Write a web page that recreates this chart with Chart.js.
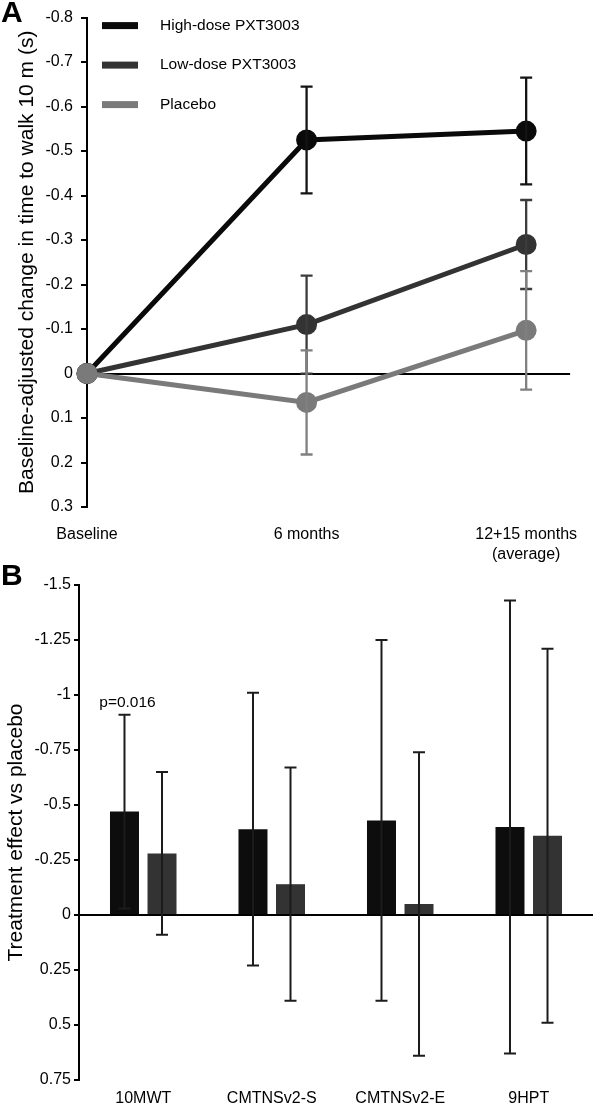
<!DOCTYPE html>
<html>
<head>
<meta charset="utf-8">
<script src="https://cdn.jsdelivr.net/npm/chart.js@4.4.0/dist/chart.umd.min.js"></script>
<style>
  html, body { margin: 0; padding: 0; background: #fff; }
  #page { position: relative; width: 597px; height: 1104px; overflow: hidden; }
  .letter { position: absolute; left: 1px; font: bold 30px 'Liberation Sans', Arial, sans-serif; line-height: 30px; color: #000; }
  canvas { position: absolute; left: 0; }
</style>
</head>
<body>
<div id="page">
  <canvas id="chartB" width="597" height="544" style="top:560px"></canvas>
  <canvas id="chartA" width="597" height="575" style="top:0"></canvas>
  <div class="letter" style="top:-3px">A</div>
  <div class="letter" style="top:560px">B</div>
</div>
<script>
// panel A: change in time to walk 10 m
const timepoints = ['Baseline', '6 months', ['12+15 months', '(average)']];
const highDose = [0, -0.525, -0.545];
const highDoseErr = [0, 0.12, 0.12];
const lowDose = [0, -0.11, -0.29];
const lowDoseErr = [0, 0.11, 0.10];
const placebo = [0, 0.065, -0.097];
const placeboErr = [0, 0.117, 0.133];

// panel B: treatment effect vs placebo
const measures = ['10MWT', 'CMTNSv2-S', 'CMTNSv2-E', '9HPT'];
const highEffect = [-0.47, -0.39, -0.43, -0.40];
const highEffectErr = [0.44, 0.62, 0.82, 1.03];
const lowEffect = [-0.28, -0.14, -0.05, -0.36];
const lowEffectErr = [0.37, 0.53, 0.69, 0.85];
const highEffectNotes = ['p=0.016', '', '', ''];

const FONT = "'Liberation Sans', Arial, sans-serif";
Chart.defaults.font.family = FONT;
Chart.defaults.color = '#000';

const isZero = v => Math.abs(v) < 1e-9;

// vertical error bars with caps, drawn from dataset.errors
const errorBars = {
  id: 'errorBars',
  afterDatasetsDraw(chart) {
    const ctx = chart.ctx;
    const yScale = chart.scales.y;
    chart.data.datasets.forEach((ds, i) => {
      if (!ds.errors) return;
      const meta = chart.getDatasetMeta(i);
      ctx.save();
      ctx.strokeStyle = ds.errorColor;
      ctx.lineWidth = ds.errorWidth || 2;
      meta.data.forEach((el, j) => {
        const err = ds.errors[j];
        if (!err) return;
        const d = ds.data[j];
        const v = typeof d === 'object' ? d.y : d;
        const top = yScale.getPixelForValue(v - err);
        const bot = yScale.getPixelForValue(v + err);
        const cap = ds.capWidth / 2;
        ctx.beginPath();
        ctx.moveTo(el.x, top);
        ctx.lineTo(el.x, bot);
        ctx.moveTo(el.x - cap, top);
        ctx.lineTo(el.x + cap, top);
        ctx.moveTo(el.x - cap, bot);
        ctx.lineTo(el.x + cap, bot);
        ctx.stroke();
        if (ds.notes && ds.notes[j]) {
          ctx.fillStyle = '#000';
          ctx.font = '15.5px ' + FONT;
          ctx.textAlign = 'center';
          ctx.textBaseline = 'bottom';
          ctx.fillText(ds.notes[j], el.x + 3, top - 4);
        }
      });
      ctx.restore();
    });
  }
};

// stacked legend inside the plot, one row per series
const lineLegend = {
  id: 'lineLegend',
  afterDraw(chart) {
    const {ctx, chartArea} = chart;
    ctx.save();
    chart.data.datasets.forEach((ds, i) => {
      const y = chartArea.top + 8 + i * 39.5;
      ctx.fillStyle = ds.borderColor;
      ctx.fillRect(chartArea.left + 15, y - 3.5, 36, 7);
      ctx.fillStyle = '#000';
      ctx.font = '15.5px ' + FONT;
      ctx.textAlign = 'left';
      ctx.textBaseline = 'middle';
      ctx.fillText(ds.label, chartArea.left + 73, y);
    });
    ctx.restore();
  }
};

// order: placebo drawn last so its marker sits on top at baseline
function lineSeries(label, values, errors, color, errColor, order) {
  return {
    label,
    order,
    data: values.map((v, i) => ({ x: i, y: v })),
    errors,
    errorColor: errColor,
    errorWidth: 2.3,
    capWidth: 12,
    borderColor: color,
    backgroundColor: color,
    pointBackgroundColor: color,
    pointBorderColor: color,
    borderWidth: 5,
    pointRadius: 8,
    tension: 0,
    clip: false
  };
}

const yAxisLine = (zeroColor) => ({
  color: ctx => (ctx.tick && isZero(ctx.tick.value)) ? zeroColor : 'rgba(0,0,0,0)',
  tickColor: '#000',
  lineWidth: 2
});

new Chart(document.getElementById('chartA'), {
  type: 'line',
  data: {
    datasets: [
      lineSeries('High-dose PXT3003', highDose, highDoseErr, '#0a0a0a', '#141414', 3),
      lineSeries('Low-dose PXT3003', lowDose, lowDoseErr, '#333333', '#3c3c3c', 2),
      lineSeries('Placebo', placebo, placeboErr, '#7a7a7a', '#808080', 1)
    ]
  },
  options: {
    responsive: false,
    animation: false,
    layout: { padding: { top: 13, right: 21, left: 0, bottom: 0 } },
    plugins: { legend: { display: false }, tooltip: { enabled: false } },
    scales: {
      x: {
        type: 'linear',
        min: 0,
        max: 2.2,
        afterBuildTicks: axis => { axis.ticks = timepoints.map((t, i) => ({ value: i })); },
        afterFit: axis => { axis.height = 68; },
        grid: { display: false, drawTicks: false },
        border: { display: false },
        ticks: {
          callback: v => timepoints[v],
          padding: 18,
          font: { size: 16, lineHeight: 1.25 },
          maxRotation: 0,
          autoSkip: false
        }
      },
      y: {
        min: -0.8,
        max: 0.3,
        reverse: true,
        afterFit: axis => { axis.width = 87; },
        ticks: {
          stepSize: 0.1,
          callback: v => isZero(v) ? '0' : v.toFixed(1),
          padding: 8,
          font: { size: 16 }
        },
        grid: Object.assign(yAxisLine('#000'), { tickLength: 6 }),
        border: { color: '#000', width: 2 },
        title: {
          display: true,
          text: 'Baseline-adjusted change in time to walk 10 m (s)',
          font: { size: 21 },
          padding: { top: 15, bottom: 0 }
        }
      }
    }
  },
  plugins: [errorBars, lineLegend]
});

new Chart(document.getElementById('chartB'), {
  type: 'bar',
  data: {
    labels: measures,
    datasets: [
      {
        label: 'High-dose PXT3003',
        data: highEffect,
        errors: highEffectErr,
        notes: highEffectNotes,
        errorColor: '#1c1c1c',
        capWidth: 12,
        backgroundColor: '#0d0d0d',
        categoryPercentage: 0.584,
        barPercentage: 0.773
      },
      {
        label: 'Low-dose PXT3003',
        data: lowEffect,
        errors: lowEffectErr,
        errorColor: '#1c1c1c',
        capWidth: 12,
        backgroundColor: '#333333',
        categoryPercentage: 0.584,
        barPercentage: 0.773
      }
    ]
  },
  options: {
    responsive: false,
    animation: false,
    layout: { padding: { top: 25, right: 4, left: 0, bottom: 0 } },
    plugins: { legend: { display: false }, tooltip: { enabled: false } },
    scales: {
      x: {
        afterFit: axis => { axis.height = 24; },
        grid: { display: false, drawTicks: false },
        border: { display: false },
        ticks: { padding: 9, font: { size: 16 }, maxRotation: 0, autoSkip: false }
      },
      y: {
        min: -1.5,
        max: 0.75,
        reverse: true,
        afterFit: axis => { axis.width = 79; },
        ticks: {
          stepSize: 0.25,
          callback: v => isZero(v) ? '0' : String(+v.toFixed(2)),
          padding: 3,
          font: { size: 16 }
        },
        grid: Object.assign(yAxisLine('#000'), { tickLength: 5 }),
        border: { color: '#000', width: 2 },
        title: {
          display: true,
          text: 'Treatment effect vs placebo',
          font: { size: 21 },
          padding: { top: 4, bottom: 0 }
        }
      }
    }
  },
  plugins: [errorBars]
});
</script>
</body>
</html>
